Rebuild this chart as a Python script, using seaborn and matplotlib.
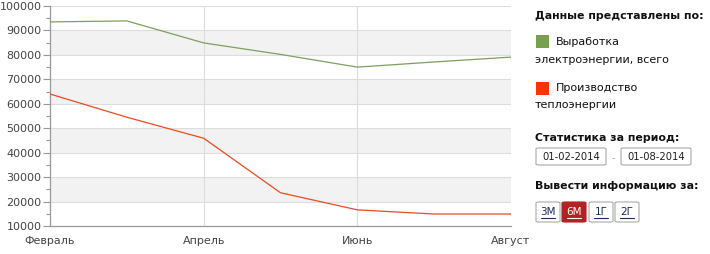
import matplotlib
matplotlib.use("Agg")
import matplotlib.pyplot as plt
import seaborn as sns
import pandas as pd
from matplotlib.patches import Rectangle, FancyBboxPatch
from matplotlib.ticker import MultipleLocator

months = ["Февраль", "Март", "Апрель", "Май", "Июнь", "Июль", "Август"]
tick_months = ["Февраль", "Апрель", "Июнь", "Август"]
electricity = [93500, 93900, 84900, 80200, 75000, 77100, 79100]
heat = [64000, 54500, 45900, 23600, 16600, 14900, 14900]
series_names = ["Выработка электроэнергии, всего", "Производство теплоэнергии"]
series_colors = ["#7f9f5f", "#ee4a1f"]
legend_colors = ["#77a150", "#ff3300"]

sns.set_theme(style="white")
plt.rcParams["font.family"] = ["DejaVu Sans"]

W, H = 710, 254
fig = plt.figure(figsize=(W / 100, H / 100), dpi=100)

def fx(px):
    return px / W

def fy(py):
    return 1 - py / H

ax = fig.add_axes([fx(50), fy(226), fx(511) - fx(50), fy(6) - fy(226)])

df = pd.DataFrame({
    "x": list(range(len(months))) * 2,
    "value": electricity + heat,
    "series": [series_names[0]] * len(months) + [series_names[1]] * len(months),
})

# alternating bands
for lo in range(20000, 100000, 20000):
    ax.axhspan(lo, lo + 10000, color="#f2f2f2", zorder=0, lw=0)

sns.lineplot(data=df, x="x", y="value", hue="series", palette=series_colors,
             linewidth=0.9, legend=False, ax=ax, zorder=3)

ax.set_xlim(0, len(months) - 1)
ax.set_ylim(10000, 100000)
ax.set_xticks([months.index(m) for m in tick_months])
ax.set_xticklabels(tick_months)
ax.yaxis.set_major_locator(MultipleLocator(10000))
ax.yaxis.set_minor_locator(MultipleLocator(5000))
ax.set_xlabel("")
ax.set_ylabel("")

ax.grid(True, axis="both", which="major", color="#dddddd", linewidth=0.8, zorder=1)
ax.set_axisbelow(True)
for s in ["top", "right"]:
    ax.spines[s].set_visible(False)
for s in ["left", "bottom"]:
    ax.spines[s].set_color("#999999")
    ax.spines[s].set_linewidth(0.9)

ax.tick_params(axis="y", which="major", length=5, width=0.8, color="#999999",
               labelsize=8, labelcolor="#444444", pad=1, left=True)
ax.tick_params(axis="y", which="minor", length=3, width=0.8, color="#999999", left=True)
ax.tick_params(axis="x", which="both", length=0, labelsize=8, labelcolor="#444444", pad=7)

# Right-hand panel
hdr = dict(fontsize=7.9, fontweight="bold", color="#111111", va="center", ha="left")
txt = dict(fontsize=8, color="#111111", va="center", ha="left")

fig.text(fx(535), fy(16), "Данные представлены по:", **hdr)

fig.patches.append(Rectangle((fx(536), fy(48)), fx(13), fy(35) - fy(48),
                             transform=fig.transFigure, color=legend_colors[0], lw=0))
fig.text(fx(556), fy(42), "Выработка", **txt)
fig.text(fx(535), fy(60), "электроэнергии, всего", **txt)

fig.patches.append(Rectangle((fx(536), fy(95)), fx(13), fy(82) - fy(95),
                             transform=fig.transFigure, color=legend_colors[1], lw=0))
fig.text(fx(556), fy(88), "Производство", **txt)
fig.text(fx(535), fy(105), "теплоэнергии", **txt)

fig.text(fx(535), fy(138), "Статистика за период:", **hdr)

def box(x0, y0, x1, y1, face="white", edge="#aaaaaa"):
    fig.patches.append(FancyBboxPatch((fx(x0), fy(y1)), fx(x1 - x0), fy(y0) - fy(y1),
                                      boxstyle="round,pad=0,rounding_size=0.004",
                                      transform=fig.transFigure, facecolor=face,
                                      edgecolor=edge, lw=0.8))

box(536, 148, 606, 165)
fig.text(fx(571), fy(157), "01-02-2014", fontsize=7.2, color="#222222", ha="center", va="center")
fig.text(fx(613), fy(158), "-", fontsize=7, color="#aaaaaa", ha="center", va="center")
box(621, 148, 691, 165)
fig.text(fx(656), fy(157), "01-08-2014", fontsize=7.2, color="#222222", ha="center", va="center")

fig.text(fx(535), fy(186), "Вывести информацию за:", **hdr)

buttons = ["3М", "6М", "1Г", "2Г"]
bx = [536, 562, 589, 615]
for i, (lab, x0) in enumerate(zip(buttons, bx)):
    active = lab == "6М"
    box(x0, 202, x0 + 24, 222, face="#b22222" if active else "white",
        edge="#b22222" if active else "#aaaaaa")
    t = fig.text(fx(x0 + 12), fy(212), lab, fontsize=7.5,
                 color="white" if active else "#1a2a5a", ha="center", va="center")
    fig.lines.append(plt.Line2D([fx(x0 + 5), fx(x0 + 19)], [fy(218), fy(218)],
                                transform=fig.transFigure,
                                color="white" if active else "#1a2a5a", lw=0.8))

fig.savefig("out.png", dpi=100)
